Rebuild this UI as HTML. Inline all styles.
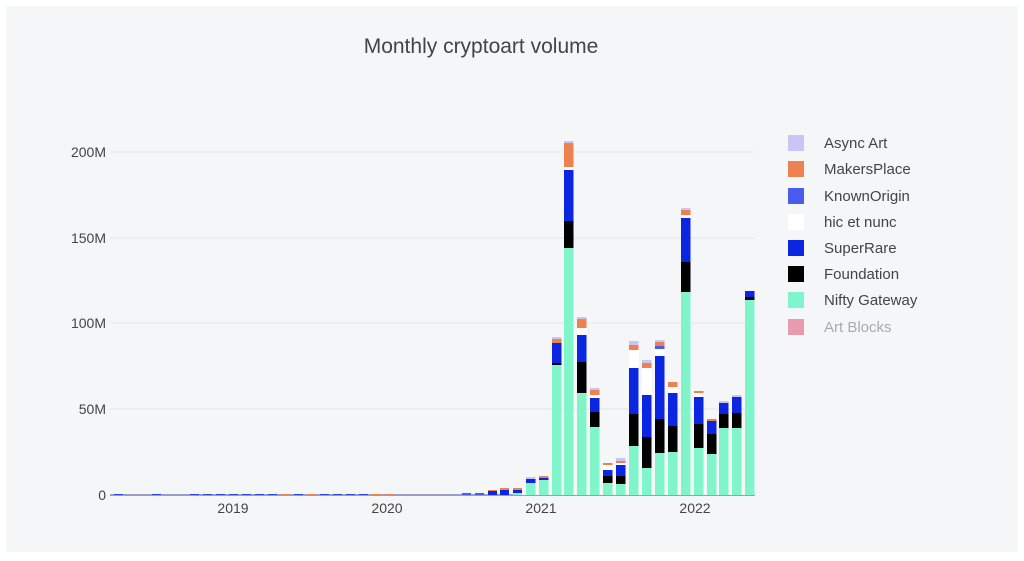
<!DOCTYPE html>
<html><head><meta charset="utf-8"><style>
html,body{margin:0;padding:0;background:#fff;}
svg{display:block;font-family:"Liberation Sans",sans-serif;}
</style></head><body>
<svg width="1024" height="561" viewBox="0 0 1024 561">
<rect x="6" y="6" width="1012" height="546" fill="#f5f6f7"/>
<text x="481" y="53" font-size="21" fill="#444" text-anchor="middle">Monthly cryptoart volume</text>
<g stroke="#e6e7e9" stroke-width="1">
<line x1="110" y1="409" x2="755" y2="409"/>
<line x1="110" y1="323" x2="755" y2="323"/>
<line x1="110" y1="238" x2="755" y2="238"/>
<line x1="110" y1="152" x2="755" y2="152"/>
</g>
<g font-size="14" fill="#444" text-anchor="end">
<text x="106" y="500">0</text>
<text x="106" y="414">50M</text>
<text x="106" y="328">100M</text>
<text x="106" y="243">150M</text>
<text x="106" y="157">200M</text>
</g>
<g font-size="14" fill="#444" text-anchor="middle">
<text x="233" y="513">2019</text>
<text x="387" y="513">2020</text>
<text x="541" y="513">2021</text>
<text x="695" y="513">2022</text>
</g>
<!-- tiny early bars -->
<g>
<rect x="110" y="494" width="410" height="2" fill="#9aa0c8"/>
<rect x="114" y="494" width="9" height="2" fill="#2a45e0"/>
<rect x="152" y="494" width="9" height="2" fill="#2a45e0"/>
<rect x="190" y="494" width="9" height="2" fill="#2a45e0"/>
<rect x="203" y="494" width="9" height="2" fill="#2a45e0"/>
<rect x="216" y="494" width="9" height="2" fill="#2a45e0"/>
<rect x="229" y="494" width="9" height="2" fill="#2a45e0"/>
<rect x="242" y="494" width="9" height="2" fill="#2a45e0"/>
<rect x="255" y="494" width="9" height="2" fill="#2a45e0"/>
<rect x="268" y="494" width="9" height="2" fill="#2a45e0"/>
<rect x="281" y="494" width="9" height="2" fill="#ef8050"/>
<rect x="294" y="494" width="9" height="2" fill="#2a45e0"/>
<rect x="307" y="494" width="9" height="2" fill="#ef8050"/>
<rect x="320" y="494" width="9" height="2" fill="#2a45e0"/>
<rect x="333" y="494" width="9" height="2" fill="#2a45e0"/>
<rect x="346" y="494" width="9" height="2" fill="#2a45e0"/>
<rect x="359" y="494" width="9" height="2" fill="#2a45e0"/>
<rect x="372" y="494" width="9" height="2" fill="#ef8050"/>
<rect x="385" y="494" width="9" height="2" fill="#ef8050"/>
<rect x="462" y="493" width="9" height="3" fill="#4a5cf0"/>
<rect x="475" y="493" width="9" height="3" fill="#4a5cf0"/>
<rect x="488" y="491" width="9" height="4" fill="#0a26e0"/><rect x="488" y="490" width="9" height="1" fill="#ef8050"/>
<rect x="500" y="490" width="9" height="5" fill="#0a26e0"/><rect x="500" y="488" width="9" height="2" fill="#ef8050"/>
<rect x="513" y="493" width="9" height="2" fill="#7ff5c9"/><rect x="513" y="490" width="9" height="3" fill="#0a26e0"/><rect x="513" y="488" width="9" height="2" fill="#ef8050"/>
</g>
<g>
<!-- bar0 -->
<rect x="526" y="483" width="9.5" height="12" fill="#7ff5c9"/><rect x="526" y="479" width="9.5" height="4" fill="#0a26e0"/><rect x="526" y="477" width="9.5" height="2" fill="#c9c6f5"/>
<!-- bar1 -->
<rect x="539" y="480" width="9.5" height="15" fill="#7ff5c9"/><rect x="539" y="478" width="9.5" height="2" fill="#0a26e0"/><rect x="539" y="476" width="9.5" height="2" fill="#ef8050"/>
<!-- bar2 -->
<rect x="552" y="365" width="9.5" height="130" fill="#7ff5c9"/><rect x="552" y="363" width="9.5" height="2" fill="#000"/><rect x="552" y="343" width="9.5" height="20" fill="#0a26e0"/><rect x="552" y="339" width="9.5" height="4" fill="#ef8050"/><rect x="552" y="337" width="9.5" height="2" fill="#c9c6f5"/>
<!-- bar3 -->
<rect x="564" y="248" width="9.5" height="247" fill="#7ff5c9"/><rect x="564" y="221" width="9.5" height="27" fill="#000"/><rect x="564" y="170" width="9.5" height="51" fill="#0a26e0"/><rect x="564" y="167" width="9.5" height="3" fill="#fff"/><rect x="564" y="143" width="9.5" height="24" fill="#ef8050"/><rect x="564" y="141" width="9.5" height="2" fill="#c9c6f5"/>
<!-- bar4 -->
<rect x="577" y="393" width="9.5" height="102" fill="#7ff5c9"/><rect x="577" y="362" width="9.5" height="31" fill="#000"/><rect x="577" y="335" width="9.5" height="27" fill="#0a26e0"/><rect x="577" y="328" width="9.5" height="7" fill="#fff"/><rect x="577" y="319" width="9.5" height="9" fill="#ef8050"/><rect x="577" y="317" width="9.5" height="2" fill="#c9c6f5"/>
<!-- bar5 -->
<rect x="590" y="427" width="9.5" height="68" fill="#7ff5c9"/><rect x="590" y="412" width="9.5" height="15" fill="#000"/><rect x="590" y="398" width="9.5" height="14" fill="#0a26e0"/><rect x="590" y="395" width="9.5" height="3" fill="#fff"/><rect x="590" y="390" width="9.5" height="5" fill="#ef8050"/><rect x="590" y="388" width="9.5" height="2" fill="#c9c6f5"/>
<!-- bar6 -->
<rect x="603" y="483" width="9.5" height="12" fill="#7ff5c9"/><rect x="603" y="476" width="9.5" height="7" fill="#000"/><rect x="603" y="470" width="9.5" height="6" fill="#0a26e0"/><rect x="603" y="465" width="9.5" height="5" fill="#fff"/><rect x="603" y="463" width="9.5" height="2" fill="#ef8050"/>
<!-- bar7 -->
<rect x="616" y="484" width="9.5" height="11" fill="#7ff5c9"/><rect x="616" y="476" width="9.5" height="8" fill="#000"/><rect x="616" y="465" width="9.5" height="11" fill="#0a26e0"/><rect x="616" y="463" width="9.5" height="2" fill="#fff"/><rect x="616" y="461" width="9.5" height="2" fill="#ef8050"/><rect x="616" y="458" width="9.5" height="3" fill="#c9c6f5"/>
<!-- bar8 -->
<rect x="629" y="446" width="9.5" height="49" fill="#7ff5c9"/><rect x="629" y="414" width="9.5" height="32" fill="#000"/><rect x="629" y="368" width="9.5" height="46" fill="#0a26e0"/><rect x="629" y="350" width="9.5" height="18" fill="#fff"/><rect x="629" y="345" width="9.5" height="5" fill="#ef8050"/><rect x="629" y="341" width="9.5" height="4" fill="#c9c6f5"/>
<!-- bar9 -->
<rect x="642" y="468" width="9.5" height="27" fill="#7ff5c9"/><rect x="642" y="437" width="9.5" height="31" fill="#000"/><rect x="642" y="395" width="9.5" height="42" fill="#0a26e0"/><rect x="642" y="368" width="9.5" height="27" fill="#fff"/><rect x="642" y="363" width="9.5" height="5" fill="#ef8050"/><rect x="642" y="360" width="9.5" height="3" fill="#c9c6f5"/>
<!-- bar10 -->
<rect x="655" y="453" width="9.5" height="42" fill="#7ff5c9"/><rect x="655" y="419" width="9.5" height="34" fill="#000"/><rect x="655" y="356" width="9.5" height="63" fill="#0a26e0"/><rect x="655" y="349" width="9.5" height="7" fill="#fff"/><rect x="655" y="346" width="9.5" height="3" fill="#4a5cf0"/><rect x="655" y="342" width="9.5" height="4" fill="#ef8050"/><rect x="655" y="340" width="9.5" height="2" fill="#c9c6f5"/>
<!-- bar11 -->
<rect x="668" y="452" width="9.5" height="43" fill="#7ff5c9"/><rect x="668" y="426" width="9.5" height="26" fill="#000"/><rect x="668" y="393" width="9.5" height="33" fill="#0a26e0"/><rect x="668" y="387" width="9.5" height="6" fill="#fff"/><rect x="668" y="382" width="9.5" height="5" fill="#ef8050"/>
<!-- bar12 -->
<rect x="681" y="292" width="9.5" height="203" fill="#7ff5c9"/><rect x="681" y="262" width="9.5" height="30" fill="#000"/><rect x="681" y="218" width="9.5" height="44" fill="#0a26e0"/><rect x="681" y="215" width="9.5" height="3" fill="#fff"/><rect x="681" y="210" width="9.5" height="5" fill="#ef8050"/><rect x="681" y="208" width="9.5" height="2" fill="#c9c6f5"/>
<!-- bar13 -->
<rect x="694" y="448" width="9.5" height="47" fill="#7ff5c9"/><rect x="694" y="424" width="9.5" height="24" fill="#000"/><rect x="694" y="397" width="9.5" height="27" fill="#0a26e0"/><rect x="694" y="393" width="9.5" height="4" fill="#fff"/><rect x="694" y="391" width="9.5" height="2" fill="#ef8050"/>
<!-- bar14 -->
<rect x="707" y="454" width="9.5" height="41" fill="#7ff5c9"/><rect x="707" y="434" width="9.5" height="20" fill="#000"/><rect x="707" y="421" width="9.5" height="13" fill="#0a26e0"/><rect x="707" y="419" width="9.5" height="2" fill="#ef8050"/>
<!-- bar15 -->
<rect x="719" y="428" width="9.5" height="67" fill="#7ff5c9"/><rect x="719" y="414" width="9.5" height="14" fill="#000"/><rect x="719" y="403" width="9.5" height="11" fill="#0a26e0"/><rect x="719" y="401" width="9.5" height="2" fill="#c9c6f5"/>
<!-- bar16 -->
<rect x="732" y="428" width="9.5" height="67" fill="#7ff5c9"/><rect x="732" y="413" width="9.5" height="15" fill="#000"/><rect x="732" y="397" width="9.5" height="16" fill="#0a26e0"/><rect x="732" y="395" width="9.5" height="2" fill="#c9c6f5"/>
<!-- bar17 -->
<rect x="745" y="300" width="9.5" height="195" fill="#7ff5c9"/><rect x="745" y="297" width="9.5" height="3" fill="#000"/><rect x="745" y="291" width="9.5" height="6" fill="#0a26e0"/>
</g>
<line x1="110" y1="495.5" x2="755" y2="495.5" stroke="#9aa0b0" stroke-width="1"/>
<g font-size="15" fill="#444">
<rect x="788" y="135" width="16" height="16" fill="#c9c6f5"/><text x="824" y="148">Async Art</text>
<rect x="788" y="161" width="16" height="16" fill="#ef8050"/><text x="824" y="174">MakersPlace</text>
<rect x="788" y="188" width="16" height="16" fill="#4a5cf0"/><text x="824" y="201">KnownOrigin</text>
<rect x="788" y="214" width="16" height="16" fill="#ffffff"/><text x="824" y="227">hic et nunc</text>
<rect x="788" y="240" width="16" height="16" fill="#0a26e0"/><text x="824" y="253">SuperRare</text>
<rect x="788" y="266" width="16" height="16" fill="#000"/><text x="824" y="279">Foundation</text>
<rect x="788" y="292" width="16" height="16" fill="#7ff5c9"/><text x="824" y="305">Nifty Gateway</text>
<rect x="788" y="319" width="16" height="16" fill="#e89ab0"/><text x="824" y="332" fill="#aaa">Art Blocks</text>
</g>
</svg>
</body></html>
